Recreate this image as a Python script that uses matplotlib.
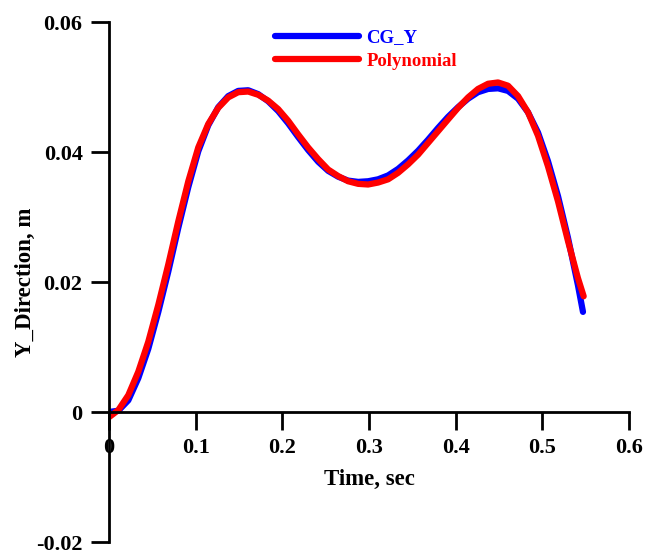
import matplotlib

matplotlib.use("Agg")
import matplotlib.pyplot as plt

# values
t_cg = [0.0000, 0.0108, 0.0223, 0.0338, 0.0453, 0.0569, 0.0684, 0.0799, 0.0915, 0.1030,
        0.1145, 0.1261, 0.1376, 0.1491, 0.1606, 0.1722, 0.1837, 0.1952, 0.2068, 0.2183,
        0.2298, 0.2414, 0.2529, 0.2644, 0.2759, 0.2875, 0.2990, 0.3105, 0.3221, 0.3336,
        0.3451, 0.3567, 0.3682, 0.3797, 0.3912, 0.4028, 0.4143, 0.4258, 0.4374, 0.4489,
        0.4604, 0.4720, 0.4835, 0.4950, 0.5065, 0.5181, 0.5296, 0.5411, 0.5469]
y_cg = [0.0000, 0.0002, 0.0018, 0.0052, 0.0097, 0.0154, 0.0216, 0.0283, 0.0346, 0.0401,
        0.0441, 0.0469, 0.0486, 0.0494, 0.0495, 0.0489, 0.0478, 0.0463, 0.0444, 0.0423,
        0.0403, 0.0385, 0.0371, 0.0362, 0.0356, 0.0354, 0.0355, 0.0358, 0.0364, 0.0374,
        0.0387, 0.0402, 0.0419, 0.0437, 0.0454, 0.0469, 0.0482, 0.0492, 0.0497, 0.0498,
        0.0494, 0.0482, 0.0461, 0.0430, 0.0386, 0.0332, 0.0268, 0.0195, 0.0154]

t_poly = [0.0000, 0.0108, 0.0223, 0.0338, 0.0453, 0.0569, 0.0684, 0.0799, 0.0915, 0.1030,
          0.1145, 0.1261, 0.1376, 0.1491, 0.1606, 0.1722, 0.1837, 0.1952, 0.2068, 0.2183,
          0.2298, 0.2414, 0.2529, 0.2644, 0.2759, 0.2875, 0.2990, 0.3105, 0.3221, 0.3336,
          0.3451, 0.3567, 0.3682, 0.3797, 0.3912, 0.4028, 0.4143, 0.4258, 0.4374, 0.4489,
          0.4604, 0.4720, 0.4835, 0.4950, 0.5065, 0.5181, 0.5296, 0.5411, 0.5477]
y_poly = [-0.0008, 0.0003, 0.0026, 0.0062, 0.0108, 0.0165, 0.0227, 0.0293, 0.0355, 0.0407,
          0.0443, 0.0468, 0.0484, 0.0492, 0.0493, 0.0488, 0.0479, 0.0466, 0.0448, 0.0427,
          0.0407, 0.0389, 0.0373, 0.0363, 0.0355, 0.0351, 0.0350, 0.0353, 0.0358, 0.0368,
          0.0381, 0.0396, 0.0414, 0.0432, 0.0450, 0.0468, 0.0484, 0.0497, 0.0505, 0.0507,
          0.0502, 0.0486, 0.0461, 0.0425, 0.0378, 0.0324, 0.0263, 0.0206, 0.0178]

x_ticks = [0, 0.1, 0.2, 0.3, 0.4, 0.5, 0.6]
x_labels = ["0", "0.1", "0.2", "0.3", "0.4", "0.5", "0.6"]
y_ticks = [-0.02, 0, 0.02, 0.04, 0.06]
y_labels = ["-0.02", "0", "0.02", "0.04", "0.06"]

plt.rcParams["font.family"] = ["Liberation Serif", "DejaVu Serif"]
plt.rcParams["font.weight"] = "bold"

fig = plt.figure(figsize=(6.57, 5.53), dpi=100)
ax = fig.add_axes([109 / 657, 11 / 553, 520 / 657, 520 / 553])

ax.plot(t_cg, y_cg, color="#0000FF", lw=4.5, solid_capstyle="round",
        solid_joinstyle="round", label="CG_Y")
ax.plot(t_poly, y_poly, color="#FF0000", lw=4.5, solid_capstyle="round",
        solid_joinstyle="round", label="Polynomial")

ax.set_xlim(0, 0.6)
ax.set_ylim(-0.02, 0.06)

ax.spines["top"].set_visible(False)
ax.spines["right"].set_visible(False)
ax.spines["bottom"].set_position(("data", 0))
for s in ("left", "bottom"):
    ax.spines[s].set_linewidth(2.0)

ax.set_xticks(x_ticks)
ax.set_xticklabels(x_labels)
ax.set_yticks(y_ticks)
ax.set_yticklabels(y_labels)
ax.tick_params(axis="both", direction="out", length=13, width=2.0,
               labelsize=16, pad=6)

ax.set_xlabel("Time, sec", fontsize=16.5, fontweight="bold")
ax.xaxis.set_label_coords(0.5, 0.141)
ax.set_ylabel("Y_Direction, m", fontsize=16.5, fontweight="bold")
ax.yaxis.set_label_coords(-0.140, 0.5)

leg = ax.legend(loc="upper left", bbox_to_anchor=(275 / 657, 1 - 29 / 553),
                bbox_transform=fig.transFigure, frameon=False,
                handlelength=4.5, handletextpad=0.37, labelspacing=0.35,
                borderpad=0, borderaxespad=0, labelcolor="linecolor",
                prop={"size": 13.5, "weight": "bold"})

fig.savefig("out.png", dpi=100)
